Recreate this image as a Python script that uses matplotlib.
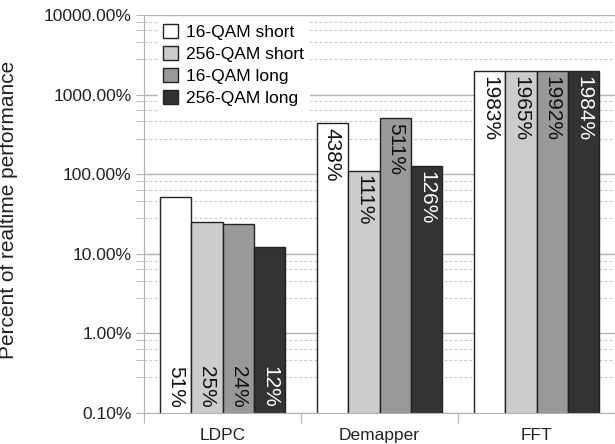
import numpy as np
import matplotlib
matplotlib.use('Agg')
import matplotlib.pyplot as plt
from matplotlib.ticker import FixedLocator, FuncFormatter

plt.rcParams['font.family'] = ['Liberation Sans', 'DejaVu Sans']

categories = ['LDPC', 'Demapper', 'FFT']
series = ['16-QAM short', '256-QAM short', '16-QAM long', '256-QAM long']
values = [
    [51, 438, 1983],   # 16-QAM short
    [25, 111, 1965],   # 256-QAM short
    [24, 511, 1992],   # 16-QAM long
    [12, 126, 1984],   # 256-QAM long
]
labels = [
    ['51%', '438%', '1983%'],
    ['25%', '111%', '1965%'],
    ['24%', '511%', '1992%'],
    ['12%', '126%', '1984%'],
]
major_ticks = [0.1, 1, 10, 100, 1000, 10000]

colors = ['#ffffff', '#cccccc', '#999999', '#333333']
text_colors = ['#111111', '#111111', '#111111', '#ffffff']

fig = plt.figure(figsize=(6.15, 4.44), dpi=100)
ax = fig.add_axes([144 / 615, 1 - 413 / 444, 1 - 144 / 615, 398 / 444])

ax.set_yscale('log')
ax.set_ylim(0.1, 10000)
ax.set_xlim(0, 3)

# minor marks: linear subdivision of each decade into 5
minor = [d * (1 + 9 * k / 5) for d in [0.1, 1, 10, 100, 1000] for k in range(1, 5)]
ax.yaxis.set_major_locator(FixedLocator(major_ticks))
ax.yaxis.set_minor_locator(FixedLocator(minor))
ax.yaxis.set_major_formatter(FuncFormatter(lambda v, p: '%.2f%%' % v))
ax.yaxis.set_minor_formatter(FuncFormatter(lambda v, p: ''))

ax.grid(True, which='major', axis='y', color='#b3b3b3', linewidth=1.0)
ax.grid(True, which='minor', axis='y', color='#c8c8c8', linewidth=0.8,
        linestyle=(0, (2.5, 2)))
ax.set_axisbelow(True)

ax.set_xticks([0, 1, 2, 3])
ax.set_xticklabels([])
ax.set_xticks([0.5, 1.5, 2.5], minor=True)
ax.set_xticklabels(categories, minor=True, fontsize=12.5, color='#222222')
ax.tick_params(axis='x', which='major', length=7, color='#b3b3b3', direction='out')
ax.tick_params(axis='x', which='minor', length=0, pad=11)
ax.tick_params(axis='y', which='both', length=6, color='#b3b3b3', direction='out',
               labelsize=12.5, labelcolor='#222222', pad=3)

for s in ['top', 'right']:
    ax.spines[s].set_visible(False)
ax.spines['left'].set_color('#b3b3b3')
ax.spines['bottom'].set_color('#b3b3b3')

x = np.arange(len(categories))
width = 0.8 / 4
for i, name in enumerate(series):
    xs = x + 0.1 + width * (i + 0.5)
    ax.bar(xs, values[i], width=width, color=colors[i], edgecolor='#222222',
           linewidth=1.0, label=name, zorder=2)
    for j, v in enumerate(values[i]):
        if v < 100:
            ax.annotate(labels[i][j], (xs[j], 0.1), xytext=(0, 4),
                        textcoords='offset points', rotation=270, ha='center',
                        va='bottom', fontsize=15, color=text_colors[i], zorder=3)
        else:
            ax.annotate(labels[i][j], (xs[j], v), xytext=(0, -3.5),
                        textcoords='offset points', rotation=270, ha='center',
                        va='top', fontsize=15, color=text_colors[i], zorder=3)

leg = ax.legend(loc='upper left', bbox_to_anchor=(0.022, 1.0), fontsize=12.5,
                frameon=True, fancybox=False, framealpha=1.0, edgecolor='white',
                handlelength=0.85, handleheight=0.85, handletextpad=0.45,
                labelspacing=0.35, borderpad=0.3, borderaxespad=0.2)
leg.set_zorder(5)

ax.set_ylabel('Percent of realtime performance', fontsize=15, color='#222222')
ax.yaxis.set_label_coords(-0.268, 0.51)

fig.savefig('out.png', dpi=100)
